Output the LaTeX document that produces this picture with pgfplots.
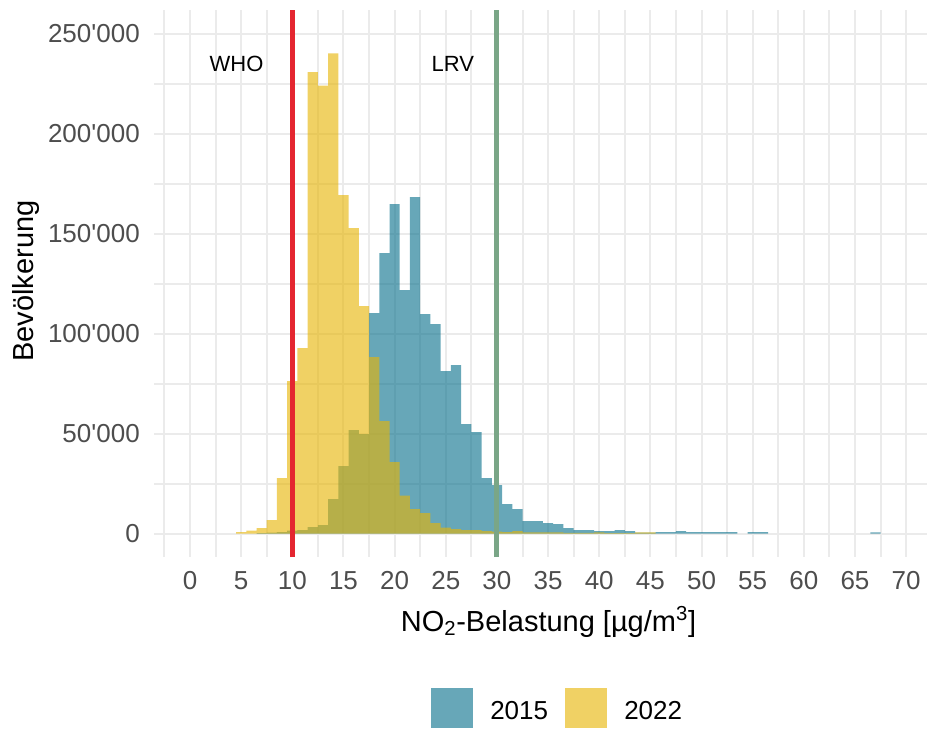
\documentclass[border=0pt]{standalone}
\usepackage{fontspec}
\setmainfont{Liberation Sans}
\usepackage{pgfplots}
\pgfplotsset{compat=1.18}
\definecolor{c15}{RGB}{10,113,140}
\definecolor{c22}{RGB}{231,181,5}
\definecolor{gridc}{RGB}{235,235,235}
\definecolor{ticktext}{RGB}{77,77,77}
\definecolor{whored}{RGB}{228,38,48}
\definecolor{lrvgreen}{RGB}{122,166,135}
\begin{document}
\begin{tikzpicture}
\path[use as bounding box] (0,0) rectangle (697.5pt,-546.75pt);
\begin{axis}[
  at={(115.5pt,-417.75pt)}, anchor=south west,
  scale only axis, width=579.75pt, height=410.25pt,
  xmin=-3.52, xmax=72.04, ymin=-11750, ymax=261750,
  axis line style={draw=none}, tick style={draw=none},
  major tick length=0pt, minor tick length=0pt,
  xtick={0,5,...,70},
  xticklabels={0,5,10,15,20,25,30,35,40,45,50,55,60,65,70},
  minor xtick={-2.5,2.5,...,67.5},
  ytick={0,50000,...,250000},
  yticklabels={0,50\textquotesingle000,100\textquotesingle000,150\textquotesingle000,200\textquotesingle000,250\textquotesingle000},
  minor ytick={25000,75000,...,225000},
  grid=both,
  major grid style={gridc, line width=1.5pt},
  minor grid style={gridc, line width=1.5pt},
  tick label style={font=\fontsize{19.5pt}{19.5pt}\selectfont, text=ticktext, inner sep=0pt},
  xticklabel style={yshift=-10.5pt},
  yticklabel style={xshift=-10.5pt},
]
\addplot[ybar, bar width=1, bar shift=0pt, fill=c15, fill opacity=0.62, draw=none] coordinates {
(7,200) (8,500) (9,700) (10,1400) (11,1750) (12,3250) (13,4250) (14,17250)
(15,33750) (16,51750) (17,49750) (18,110250) (19,140250) (20,164750) (21,121750)
(22,168250) (23,109750) (24,104750) (25,81250) (26,84250) (27,54750) (28,50750)
(29,27750) (30,24250) (31,14750) (32,12250) (33,6250) (34,6250) (35,5250)
(36,4750) (37,2750) (38,1750) (39,1750) (40,1250) (41,1250) (42,1750) (43,1250)
(44,500) (45,500) (46,750) (47,750) (48,1250) (49,750) (50,750) (51,750)
(52,750) (53,750) (55,750) (56,750) (67,600)
};
\addplot[ybar, bar width=1, bar shift=0pt, fill=c22, fill opacity=0.62, draw=none] coordinates {
(5,750) (6,1400) (7,2750) (8,6750) (9,27750) (10,76250) (11,92750) (12,230750)
(13,223900) (14,240100) (15,169250) (16,152750) (17,113750) (18,88250) (19,56250)
(20,35750) (21,18900) (22,12250) (23,10250) (24,5250) (25,2900) (26,2250)
(27,1750) (28,1750) (29,1250) (30,1000) (31,750) (32,1250) (33,600) (34,600)
(35,600) (36,600) (37,300) (38,300) (39,300) (40,600) (41,200) (42,200)
(43,200) (44,600) (45,600)
};
\addplot[whored, line width=3.75pt] coordinates {(10,-11750) (10,261750)};
\addplot[lrvgreen, line width=3.75pt] coordinates {(30,-11750) (30,261750)};
\node[font=\fontsize{16.5pt}{16.5pt}\selectfont] at (axis cs:4.55,234750) {WHO};
\node[font=\fontsize{16.5pt}{16.5pt}\selectfont] at (axis cs:25.7,234750) {LRV};
\end{axis}
\node[anchor=base, font=\fontsize{21.75pt}{21.75pt}\selectfont] at (411.375pt,-473.25pt) {NO\textsubscript{2}-Belastung [µg/m\textsuperscript{3}]};
\node[anchor=base, rotate=90, font=\fontsize{21.75pt}{21.75pt}\selectfont] at (25.125pt,-210.75pt) {Bevölkerung};
\fill[c15, fill opacity=0.62] (323.25pt,-516pt) rectangle (354.75pt,-546pt);
\fill[c22, fill opacity=0.62] (423.75pt,-516pt) rectangle (455.6pt,-546pt);
\node[anchor=base west, inner sep=0pt, font=\fontsize{19.5pt}{19.5pt}\selectfont] at (367.5pt,-539.25pt) {2015};
\node[anchor=base west, inner sep=0pt, font=\fontsize{19.5pt}{19.5pt}\selectfont] at (468pt,-539.25pt) {2022};
\end{tikzpicture}
\end{document}
